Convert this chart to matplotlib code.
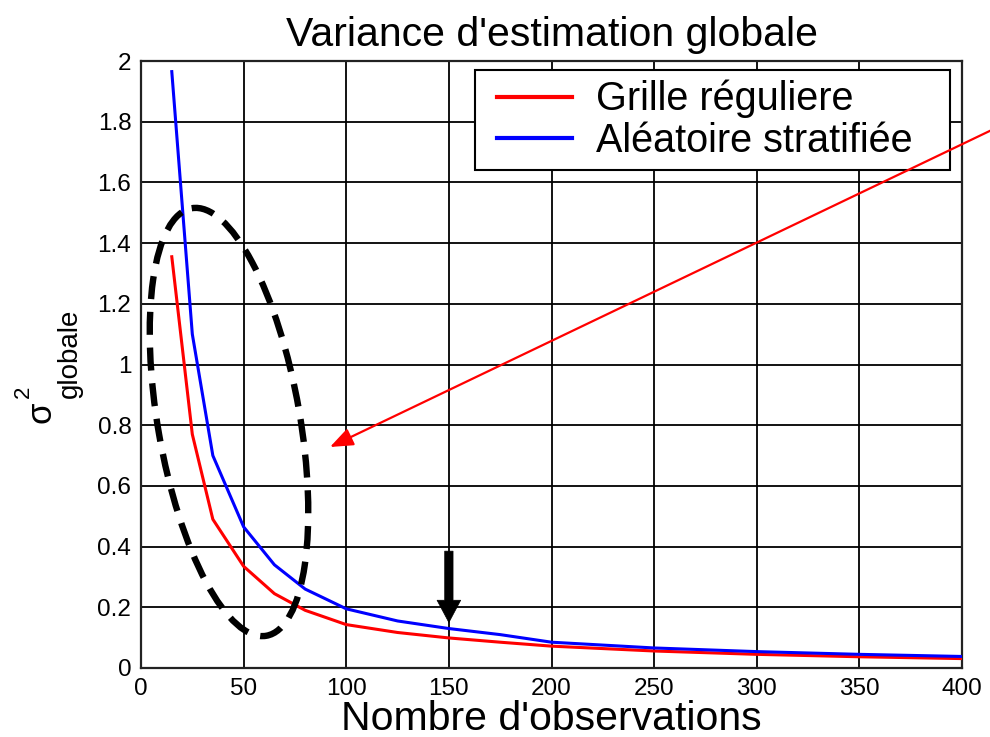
import matplotlib
matplotlib.use("Agg")
import matplotlib.pyplot as plt
import matplotlib.transforms as mtransforms
from matplotlib.patches import Ellipse, FancyArrowPatch, Rectangle

plt.rcParams['font.family'] = ['Liberation Sans', 'DejaVu Sans']

# Number of observations and global estimation variance for each sampling design
n_obs = [15, 25, 35, 50, 65, 80, 100, 125, 150, 175, 200, 250, 300, 350, 400]
var_grille = [1.355, 0.77, 0.49, 0.335, 0.245, 0.19, 0.143, 0.117, 0.099,
              0.085, 0.072, 0.056, 0.045, 0.037, 0.031]
var_aleatoire = [1.965, 1.10, 0.70, 0.465, 0.34, 0.26, 0.195, 0.155, 0.13,
                 0.11, 0.085, 0.066, 0.054, 0.045, 0.038]

series_labels = ["Grille réguliere", "Aléatoire stratifiée"]
x_ticks = [0, 50, 100, 150, 200, 250, 300, 350, 400]
y_ticks = [0, 0.2, 0.4, 0.6, 0.8, 1.0, 1.2, 1.4, 1.6, 1.8, 2.0]
y_ticklabels = ["0", "0.2", "0.4", "0.6", "0.8", "1", "1.2", "1.4", "1.6", "1.8", "2"]

W, H = 990, 737
fig = plt.figure(figsize=(W / 100, H / 100), dpi=100)
fig.patch.set_facecolor("white")
ax = fig.add_axes([141 / W, (H - 668) / H, (962 - 141) / W, (668 - 61) / H])

ax.plot(n_obs, var_grille, color="#ff0000", lw=2.2, label=series_labels[0], zorder=3)
ax.plot(n_obs, var_aleatoire, color="#0000ff", lw=2.2, label=series_labels[1], zorder=3)

ax.set_xlim(0, 400)
ax.set_ylim(0, 2)
ax.set_xticks(x_ticks)
ax.set_xticklabels([str(v) for v in x_ticks])
ax.set_yticks(y_ticks)
ax.set_yticklabels(y_ticklabels)
ax.tick_params(labelsize=17.5, length=0, pad=7, colors="black")
ax.grid(True, color="black", lw=1.3, ls="-")
ax.set_axisbelow(True)
for sp in ax.spines.values():
    sp.set_linewidth(1.6)
    sp.set_color("#222222")

ax.set_title("Variance d'estimation globale", fontsize=29.5, pad=11)
ax.set_xlabel("Nombre d'observations", fontsize=29.5, labelpad=0)

# pixel-based transform (origin top-left) for annotation overlays
px = mtransforms.Affine2D().scale(1 / W, -1 / H).translate(0, 1) + fig.transFigure

# legend frame drawn as a plain rectangle, entries placed inside it
frame = Rectangle((475, 70), 475, 100, transform=px, fc="white", ec="black",
                  lw=1.5, zorder=4.5, clip_on=False)
ax.add_patch(frame)
x0 = (487 - 141) / 821
x1 = (950 - 141) / 821
y1 = (668 - 70) / 607
y0 = (668 - 170) / 607
leg = ax.legend(loc="upper left", bbox_to_anchor=(x0, y0, x1 - x0, y1 - y0),
                mode="expand", fontsize=28.5, frameon=False,
                handlelength=1.9, handletextpad=0.6, labelspacing=0.08,
                borderpad=0.25, borderaxespad=0.0)
leg.set_zorder(5)
for h in leg.get_lines():
    h.set_linewidth(3)

# y-axis label: sigma squared, subscript "globale"
fig.text(41, 412, "σ", transform=px, rotation=90, fontsize=25, ha="center", va="center")
fig.text(23, 392, "2", transform=px, rotation=90, fontsize=16, ha="center", va="center")
fig.text(70, 353, "globale", transform=px, rotation=90, fontsize=20, ha="center", va="center")

# dashed ellipse around the small-sample region
ell = Ellipse((229, 422), width=142, height=434, angle=-9.9, transform=px,
              fill=False, ec="black", lw=4.6, ls=(0, (3.6, 2.0)), zorder=5)
fig.add_artist(ell)

# red pointer arrow
red_arrow = FancyArrowPatch((998, 127), (330, 447), transform=px,
                            arrowstyle="-|>,head_length=14,head_width=5.5",
                            mutation_scale=1, color="#ff0000", lw=1.6,
                            shrinkA=0, shrinkB=0, zorder=6)
fig.add_artist(red_arrow)

# black arrow marking 150 observations
ax.annotate("", xy=(150, 0.15), xytext=(150, 0.385),
            arrowprops=dict(arrowstyle="simple,head_length=16,head_width=17,tail_width=6",
                            mutation_scale=1, fc="black", ec="black", lw=0.5,
                            shrinkA=0, shrinkB=0), zorder=6)

fig.savefig("out.png", dpi=100)
